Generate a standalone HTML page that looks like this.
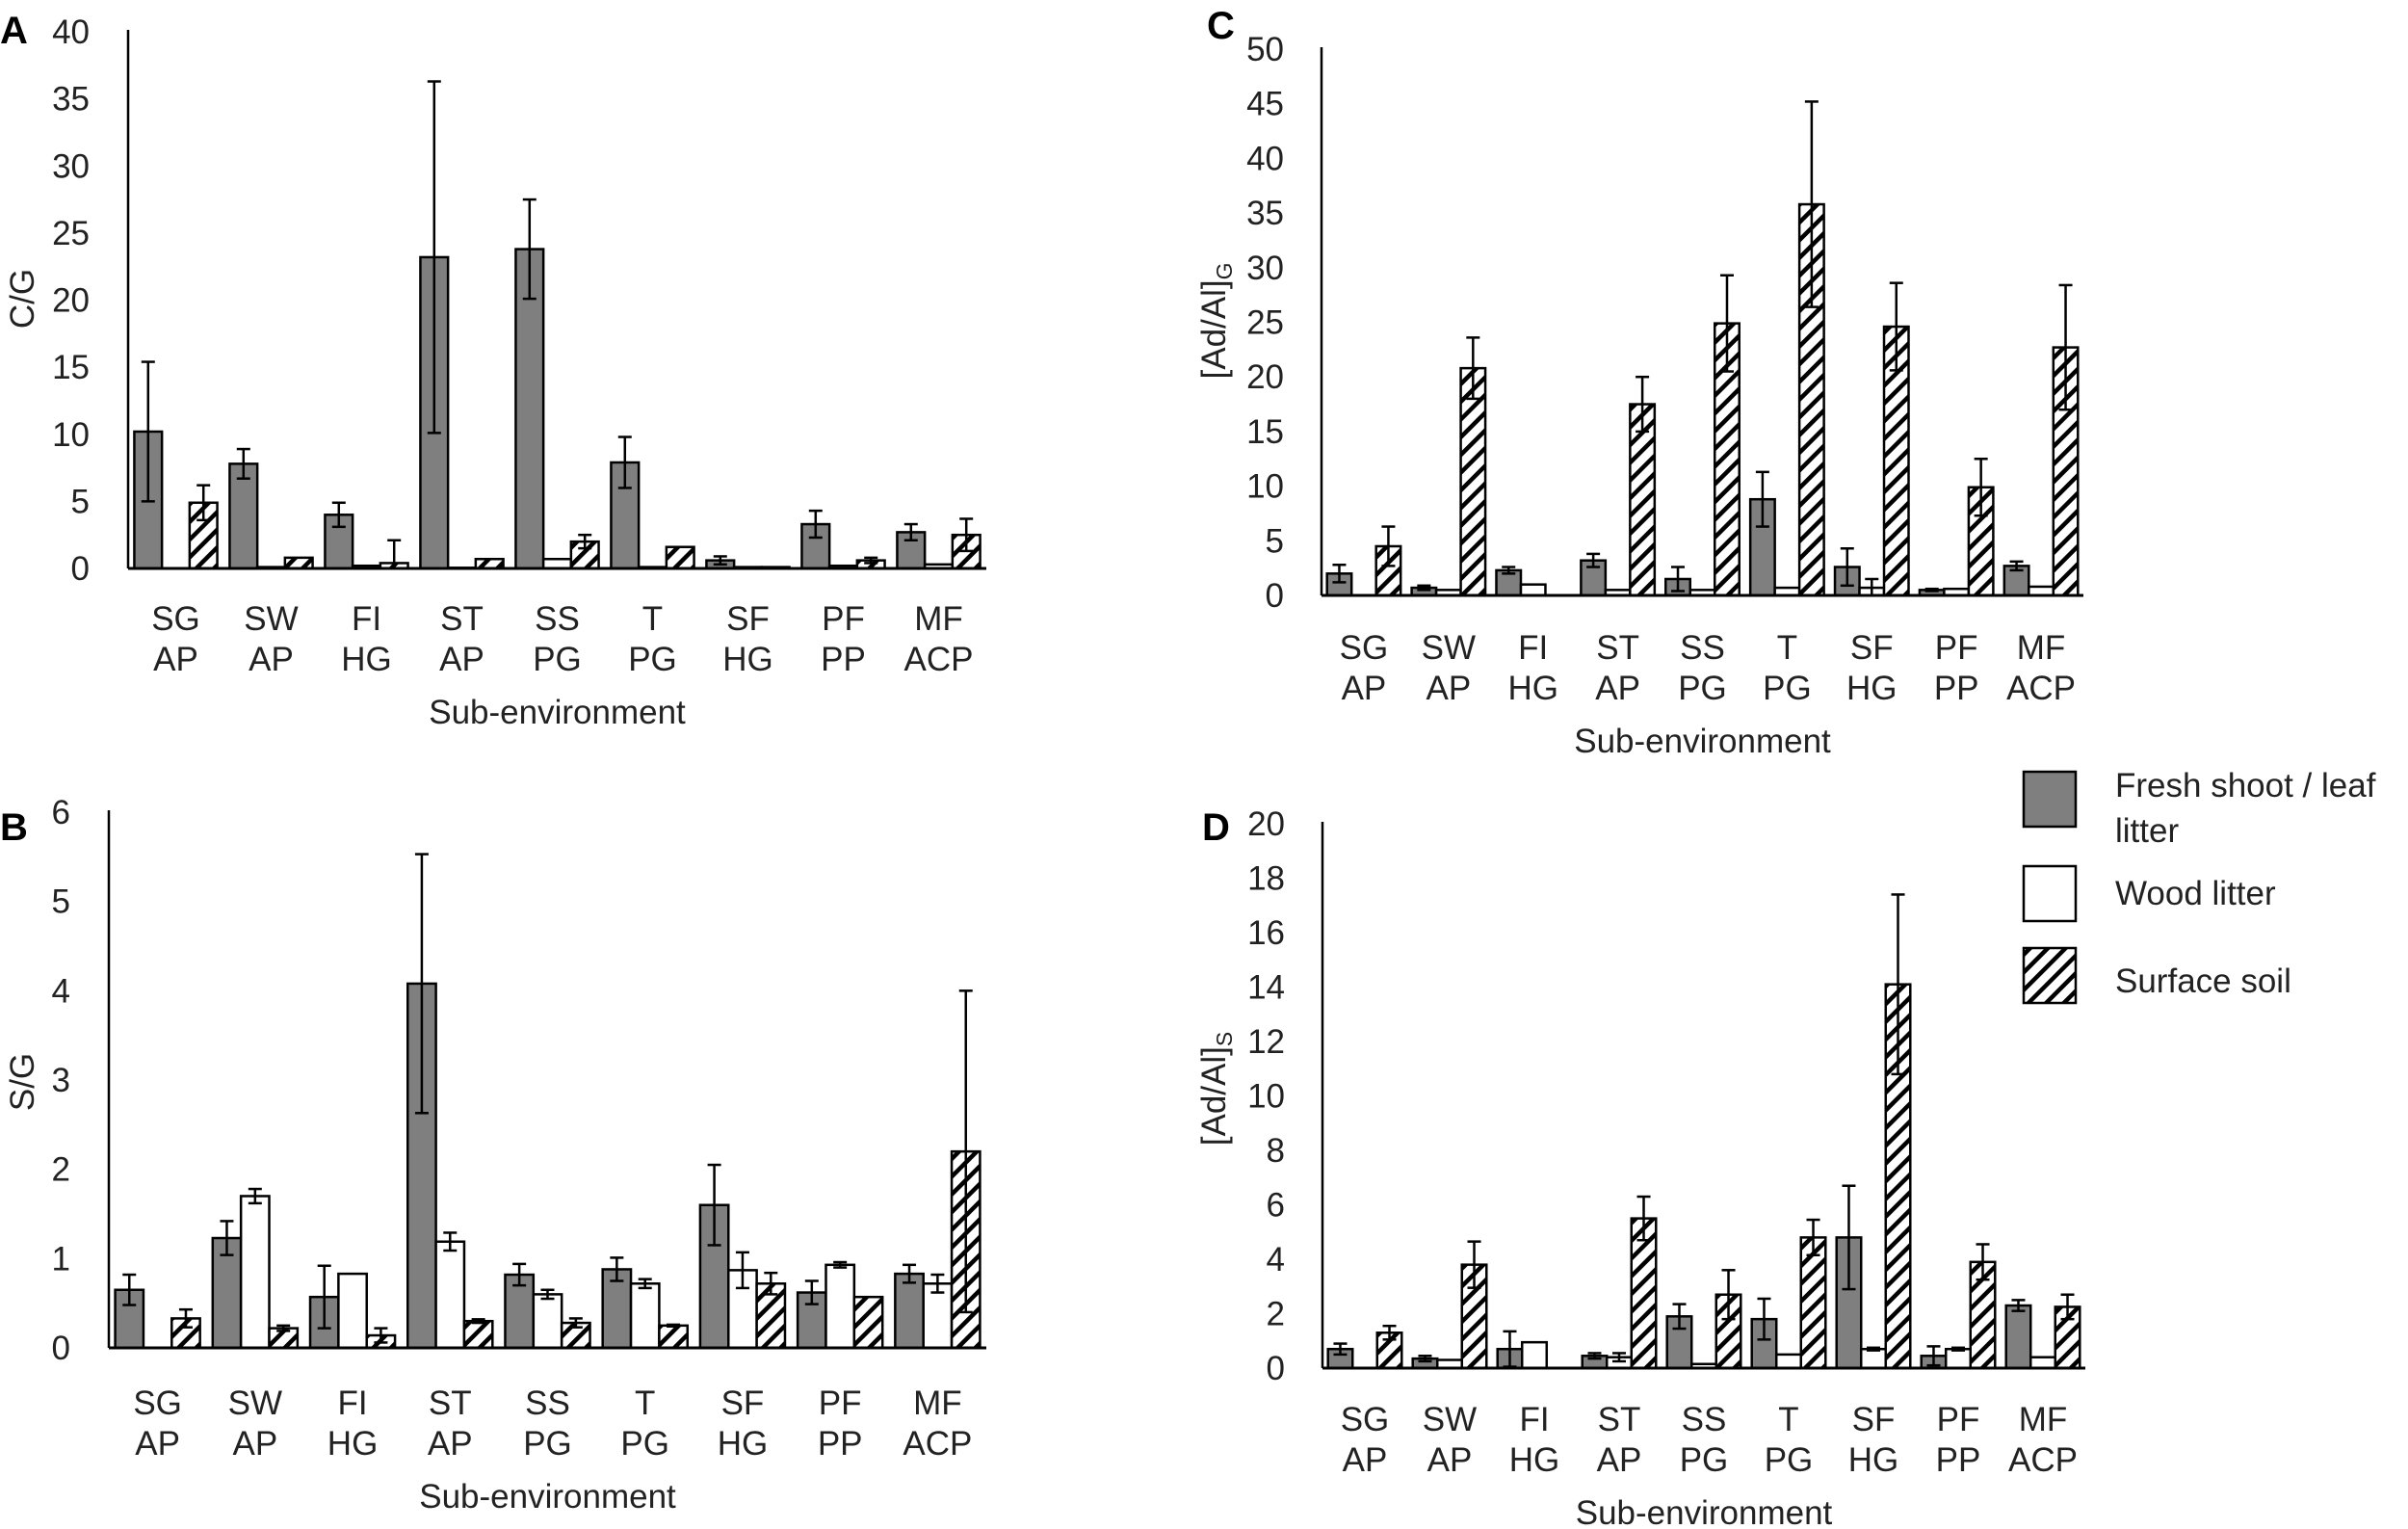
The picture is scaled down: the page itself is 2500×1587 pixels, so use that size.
<!DOCTYPE html>
<html><head><meta charset="utf-8"><style>
html,body{margin:0;padding:0;background:#fff;}
svg{display:block;font-family:"Liberation Sans",sans-serif;}
</style></head><body>
<svg id="fig" width="2500" height="1587" viewBox="0 0 2500 1587" xmlns="http://www.w3.org/2000/svg">
<defs>
<pattern id="hatch" patternUnits="userSpaceOnUse" width="13" height="13" patternTransform="rotate(45)">
<rect width="13" height="13" fill="#fff"/><rect x="0" y="0" width="4.5" height="13" fill="#000"/>
</pattern>
</defs>
<g>
<rect x="2101" y="801" width="54" height="57" fill="#7f7f7f" stroke="#000" stroke-width="2.5"/>
<text x="2196" y="827" font-size="35" fill="#222">Fresh shoot / leaf</text>
<text x="2196" y="874" font-size="35" fill="#222">litter</text>
<rect x="2101" y="899" width="54" height="57" fill="#fff" stroke="#000" stroke-width="2.5"/>
<text x="2196" y="939" font-size="35" fill="#222">Wood litter</text>
<rect x="2101" y="984" width="54" height="57" fill="url(#hatch)" stroke="#000" stroke-width="2.5"/>
<text x="2196" y="1030" font-size="35" fill="#222">Surface soil</text>
</g>
</svg>
<script>
const categories1 = ["SG","SW","FI","ST","SS","T","SF","PF","MF"];
const categories2 = ["AP","AP","HG","AP","PG","PG","HG","PP","ACP"];
// Panel A: C/G
const aFresh = [10.2,7.8,4.0,23.2,23.8,7.9,0.6,3.3,2.7];
const aFreshErr = [5.2,1.1,0.9,13.1,3.7,1.9,0.3,1.0,0.6];
const aWood = [0,0.1,0.2,0.05,0.7,0.1,0.1,0.2,0.3];
const aWoodErr = [0,0,0,0,0,0,0,0,0];
const aSoil = [4.9,0.8,0.4,0.7,2.0,1.6,0.1,0.6,2.5];
const aSoilErr = [1.3,0,1.7,0,0.5,0,0,0.2,1.2];
const aTicks = [0,5,10,15,20,25,30,35,40];
// Panel B: S/G
const bFresh = [0.65,1.23,0.57,4.08,0.82,0.88,1.6,0.62,0.83];
const bFreshErr = [0.17,0.19,0.35,1.45,0.12,0.13,0.45,0.13,0.1];
const bWood = [0,1.7,0.83,1.19,0.6,0.72,0.87,0.93,0.72];
const bWoodErr = [0,0.08,0,0.1,0.05,0.05,0.2,0.03,0.1];
const bSoil = [0.33,0.22,0.14,0.3,0.28,0.25,0.72,0.57,2.2];
const bSoilErr = [0.1,0.03,0.08,0.02,0.05,0.01,0.12,0,1.8];
const bTicks = [0,1,2,3,4,5,6];
// Panel C: [Ad/Al]G
const cFresh = [2.0,0.7,2.3,3.2,1.5,8.8,2.6,0.5,2.7];
const cFreshErr = [0.8,0.2,0.3,0.6,1.1,2.5,1.7,0.1,0.4];
const cWood = [0,0.5,1.0,0.5,0.5,0.7,0.7,0.6,0.8];
const cWoodErr = [0,0,0,0,0,0,0.8,0,0];
const cSoil = [4.5,20.8,0,17.5,24.9,35.8,24.6,9.9,22.7];
const cSoilErr = [1.8,2.8,0,2.5,4.4,9.4,4.0,2.6,5.7];
const cTicks = [0,5,10,15,20,25,30,35,40,45,50];
// Panel D: [Ad/Al]S
const dFresh = [0.7,0.35,0.7,0.45,1.9,1.8,4.8,0.45,2.3];
const dFreshErr = [0.2,0.1,0.65,0.1,0.45,0.75,1.9,0.35,0.2];
const dWood = [0,0.3,0.95,0.4,0.15,0.5,0.7,0.7,0.4];
const dWoodErr = [0,0,0,0.15,0,0,0.05,0.05,0];
const dSoil = [1.3,3.8,0,5.5,2.7,4.8,14.1,3.9,2.25];
const dSoilErr = [0.25,0.85,0,0.8,0.9,0.65,3.3,0.65,0.45];
const dTicks = [0,2,4,6,8,10,12,14,16,18,20];

const NS = "http://www.w3.org/2000/svg";
const svg = document.getElementById("fig");
const FS = 35;
function mk(tag, attrs, parent){
  const e = document.createElementNS(NS, tag);
  for (const k in attrs) e.setAttribute(k, attrs[k]);
  (parent||svg).appendChild(e);
  return e;
}
function panel(cfg){
  const g = mk("g", {});
  
  
  const maxV = cfg.ticks[cfg.ticks.length-1];
  const yS = v => cfg.y0 - (v/maxV)*(cfg.y0-cfg.yTop);
  const gw = (cfg.x1-cfg.x0)/categories1.length;
  const bw = gw*0.29, off = gw*0.065;
  const series = [[cfg.fresh,cfg.freshErr,"#7f7f7f","fresh"],[cfg.wood,cfg.woodErr,"#fff","wood"],[cfg.soil,cfg.soilErr,"url(#hatch)","soil"]];
  const errs = [];
  series.forEach((s, si) => {
    s[0].forEach((v, i) => {
      const x = cfg.x0 + i*gw + off + si*bw;
      if (v > 0) {
        const r = mk("rect", {x:x, y:yS(v), width:bw, height:cfg.y0-yS(v), fill:s[2], stroke:"#000", "stroke-width":2.5}, g);
        
        
      }
      const e = s[1][i];
      if (e > 0) errs.push([x + bw/2, v, e, s[3], i]);
    });
  });
  errs.forEach(([cx, v, e, nm, i]) => {
    const eg = mk("g", {stroke:"#000", "stroke-width":2.5}, g);
    
    
    const lo = Math.max(0, v-e), hi = v+e;
    mk("line", {x1:cx, x2:cx, y1:yS(lo), y2:yS(hi)}, eg);
    mk("line", {x1:cx-7, x2:cx+7, y1:yS(lo), y2:yS(lo)}, eg);
    mk("line", {x1:cx-7, x2:cx+7, y1:yS(hi), y2:yS(hi)}, eg);
  });
  const ya = mk("line", {x1:cfg.x0, x2:cfg.x0, y1:cfg.yTop-2, y2:cfg.y0, stroke:"#000", "stroke-width":2.5}, g);
  
  
  const xa = mk("line", {x1:cfg.x0, x2:cfg.x1, y1:cfg.y0, y2:cfg.y0, stroke:"#000", "stroke-width":3}, g);
  
  
  cfg.ticks.forEach(t => {
    const tx = mk("text", {x:cfg.x0-cfg.tickGap, y:yS(t)+12, "font-size":FS, "text-anchor":"end", fill:"#222"}, g);
    
    
    tx.textContent = t;
  });
  categories1.forEach((c, i) => {
    const cx = cfg.x0 + (i+0.5)*gw;
    const t1 = mk("text", {x:cx, y:cfg.cat1, "font-size":FS, "text-anchor":"middle", fill:"#222"}, g);
    
    
    t1.textContent = c;
    const t2 = mk("text", {x:cx, y:cfg.cat1+42, "font-size":FS, "text-anchor":"middle", fill:"#222"}, g);
    
    
    t2.textContent = categories2[i];
  });
  const xt = mk("text", {x:(cfg.x0+cfg.x1)/2, y:cfg.cat1+97, "font-size":FS, "text-anchor":"middle", fill:"#222"}, g);
  
  
  xt.textContent = "Sub-environment";
  const yt = mk("text", {x:cfg.titleX, y:cfg.titleY, "font-size":FS, "text-anchor":"middle", fill:"#222", transform:"rotate(-90 "+cfg.titleX+" "+cfg.titleY+")"}, g);
  
  
  if (cfg.sub) {
    yt.appendChild(document.createTextNode(cfg.title));
    const ts = mk("tspan", {"font-size":23, dy:7}, yt);
    ts.textContent = cfg.sub;
  } else yt.textContent = cfg.title;
  const pl = mk("text", {x:cfg.lx, y:cfg.ly, "font-size":40, "font-weight":"bold", fill:"#000"}, g);
  
  
  pl.textContent = cfg.id;
}
panel({id:"A", x0:133, x1:1024, y0:590, yTop:33, ticks:aTicks, fresh:aFresh, freshErr:aFreshErr, wood:aWood, woodErr:aWoodErr, soil:aSoil, soilErr:aSoilErr, tickGap:40, cat1:654, title:"C/G", titleX:35, titleY:310, lx:0, ly:45});
panel({id:"B", x0:113, x1:1024, y0:1399, yTop:843, ticks:bTicks, fresh:bFresh, freshErr:bFreshErr, wood:bWood, woodErr:bWoodErr, soil:bSoil, soilErr:bSoilErr, tickGap:40, cat1:1468, title:"S/G", titleX:35, titleY:1123, lx:0, ly:872});
panel({id:"C", x0:1372, x1:2163, y0:618, yTop:51, ticks:cTicks, fresh:cFresh, freshErr:cFreshErr, wood:cWood, woodErr:cWoodErr, soil:cSoil, soilErr:cSoilErr, tickGap:39, cat1:684, title:"[Ad/Al]", sub:"G", titleX:1272, titleY:333, lx:1253, ly:40});
panel({id:"D", x0:1373, x1:2165, y0:1420, yTop:855, ticks:dTicks, fresh:dFresh, freshErr:dFreshErr, wood:dWood, woodErr:dWoodErr, soil:dSoil, soilErr:dSoilErr, tickGap:39, cat1:1485, title:"[Ad/Al]", sub:"S", titleX:1272, titleY:1130, lx:1248, ly:872});
</script>
</body></html>
